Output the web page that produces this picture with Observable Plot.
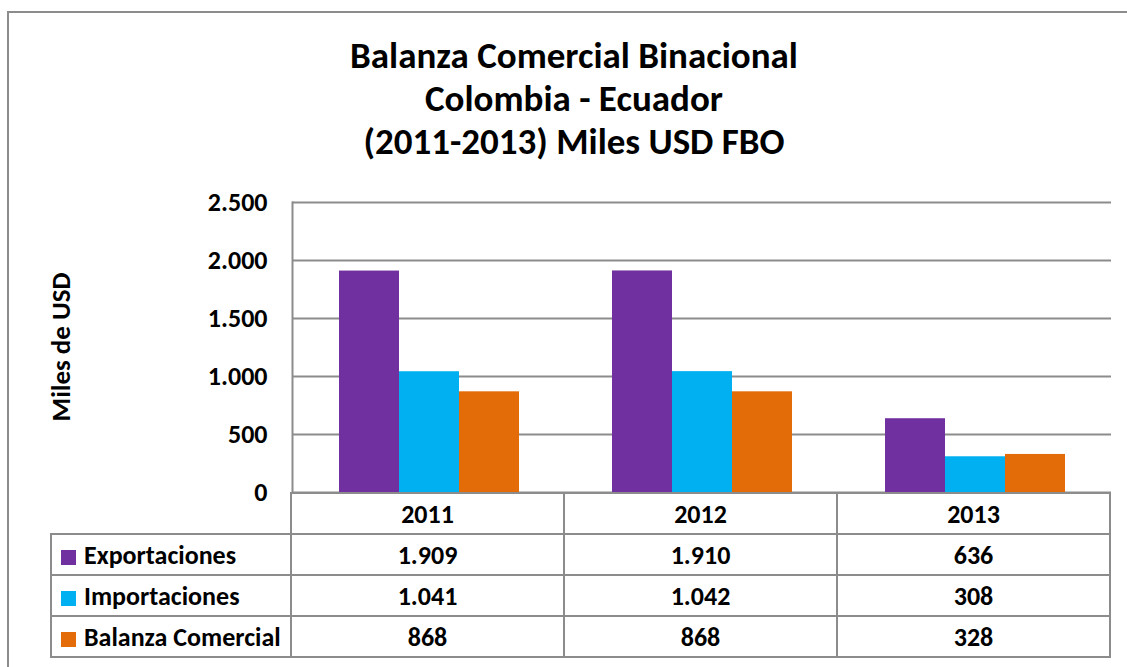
<!DOCTYPE html>
<html>
<head>
<meta charset="utf-8">
<script src="https://cdn.jsdelivr.net/npm/d3@7"></script>
<script src="https://cdn.jsdelivr.net/npm/@observablehq/plot@0.6"></script>
<style>
  html, body { margin: 0; padding: 0; background: #fff; width: 1127px; height: 667px; overflow: hidden; }
  body { position: relative; font-family: Carlito, Calibri, Lato, "Open Sans", sans-serif; font-weight: bold; color: #000; }
  #frame { position: absolute; left: 7px; top: 11px; width: 1300px; height: 900px; border-left: 2px solid #8c8c8c; border-top: 2px solid #8c8c8c; }
  #title { position: absolute; left: 0; top: 34px; width: 1148px; text-align: center; font-size: 37px; line-height: 43px; }
  #ylabel { position: absolute; left: 60px; top: 347px; transform: translate(-50%, -50%) rotate(-90deg); font-size: 27px; white-space: nowrap; }
  #chart { position: absolute; left: 0; top: 190px; }
  #table { position: absolute; left: 50px; top: 492px; border-collapse: collapse; font-size: 26px; table-layout: fixed; }
  #table td { border: 2px solid #8c8c8c; height: 39px; padding: 0; text-align: center; vertical-align: middle; }
  #table td.blank { border: none; }
  #table td.lab { text-align: left; padding-left: 9px; white-space: nowrap; }
  .sw { display: inline-block; width: 15px; height: 15px; margin-right: 8px; vertical-align: -1px; }
</style>
</head>
<body>
<div id="frame"></div>
<div id="title"></div>
<div id="ylabel"></div>
<div id="chart"></div>
<table id="table"></table>
<script>
const titleLines = ["Balanza Comercial Binacional", "Colombia - Ecuador", "(2011-2013) Miles USD FBO"];
const yLabel = "Miles de USD";
const years = ["2011", "2012", "2013"];
const seriesNames = ["Exportaciones", "Importaciones", "Balanza Comercial"];
const exportaciones = [1909, 1910, 636];
const importaciones = [1041, 1042, 308];
const balanza = [868, 868, 328];
const colors = ["#7030A0", "#00B0F0", "#E36C09"];
const yTicks = [0, 500, 1000, 1500, 2000, 2500];

const seriesValues = [exportaciones, importaciones, balanza];
const data = [];
years.forEach((yr, i) => seriesNames.forEach((s, j) => data.push({year: yr, series: s, value: seriesValues[j][i]})));

const locale = d3.formatLocale({decimal: ",", thousands: ".", grouping: [3], currency: ["$", ""]});
const fmt = locale.format(",d");

document.getElementById("title").innerHTML = titleLines.join("<br>");
document.getElementById("ylabel").textContent = yLabel;

const W = 1127, ML = 291, MR = 16;
const chart = Plot.plot({
  width: W,
  height: 322,
  marginLeft: ML,
  marginRight: MR,
  marginTop: 12,
  marginBottom: 20,
  style: {background: "transparent", overflow: "visible", fontFamily: "Carlito, Calibri, Lato, 'Open Sans', sans-serif", fontWeight: "bold", fontSize: "26px", color: "#000"},
  fx: {domain: years, padding: 0, axis: null},
  x: {domain: seriesNames, paddingInner: 0, paddingOuter: 0.75, axis: null},
  y: {domain: [0, 2500], axis: null},
  color: {domain: seriesNames, range: colors},
  marks: [
    Plot.gridY(yTicks, {stroke: "#8c8c8c", strokeOpacity: 1, strokeWidth: 2}),
    Plot.frame({anchor: "left", facetAnchor: "left", stroke: "#8c8c8c", strokeWidth: 2}),
    Plot.barY(data, {fx: "year", x: "series", y: "value", fill: "series"}),
    Plot.axisY(yTicks, {tickSize: 0, tickPadding: 25, tickFormat: fmt, fontSize: 26, fontWeight: "bold", fill: "#000", label: null})
  ]
});
document.getElementById("chart").appendChild(chart);

// data table below chart (acts as legend)
const fxScale = chart.scale("fx");
const band = fxScale && fxScale.bandwidth ? fxScale.bandwidth : (W - ML - MR) / years.length;
const table = document.getElementById("table");
let html = `<tr><td class="blank" style="width:${ML - 50 - 2}px"></td>` + years.map(y => `<td style="width:${band - 2}px">${y}</td>`).join("") + "</tr>";
seriesNames.forEach((s, j) => {
  html += `<tr><td class="lab"><span class="sw" style="background:${colors[j]}"></span>${s}</td>` +
    seriesValues[j].map(v => `<td>${fmt(v)}</td>`).join("") + "</tr>";
});
table.innerHTML = html;
</script>
</body>
</html>
